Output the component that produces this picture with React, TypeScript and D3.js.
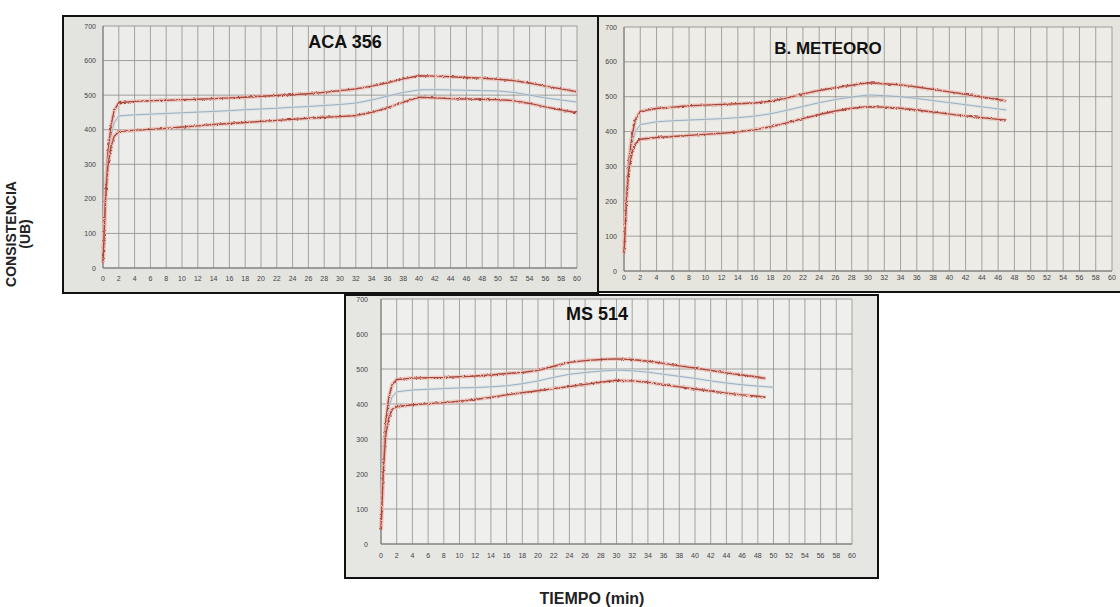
import React from "react";
import * as d3 from "d3";

// ---------- tick labels ----------
const xTicks = [0, 2, 4, 6, 8, 10, 12, 14, 16, 18, 20, 22, 24, 26, 28, 30, 32, 34, 36, 38, 40, 42, 44, 46, 48, 50, 52, 54, 56, 58, 60];
const yTicks = [0, 100, 200, 300, 400, 500, 600, 700];

// ---------- ACA 356 ----------
const acaTime = [0, 0.3, 0.6, 1, 1.4, 2, 4, 6, 8, 10, 12, 14, 16, 18, 20, 22, 24, 26, 28, 30, 32, 34, 36, 38, 40, 42, 44, 46, 48, 50, 52, 54, 56, 58, 60];
const acaTop = [15, 210, 330, 410, 455, 478, 482, 484, 485, 487, 488, 490, 492, 494, 497, 499, 501, 504, 508, 513, 518, 526, 536, 547, 556, 555, 553, 551, 549, 546, 542, 535, 526, 518, 510];
const acaMid = [15, 200, 310, 380, 420, 440, 443, 445, 447, 449, 451, 453, 455, 458, 460, 462, 465, 467, 470, 473, 477, 486, 497, 508, 515, 516, 515, 514, 513, 512, 508, 500, 492, 486, 480];
const acaBottom = [15, 190, 290, 350, 380, 395, 398, 401, 404, 408, 411, 415, 418, 421, 424, 427, 430, 433, 436, 438, 441, 450, 463, 480, 494, 492, 490, 489, 488, 487, 484, 476, 466, 457, 449];

// ---------- B. METEORO ----------
const metTime = [0, 0.3, 0.6, 1, 1.4, 2, 4, 6, 8, 10, 12, 14, 16, 18, 20, 22, 24, 26, 28, 30, 32, 34, 36, 38, 40, 42, 44, 46, 47];
const metTop = [50, 220, 320, 390, 435, 458, 466, 470, 474, 476, 478, 480, 482, 487, 496, 508, 518, 526, 533, 540, 537, 534, 528, 521, 514, 507, 499, 492, 488];
const metMid = [50, 210, 305, 365, 400, 420, 428, 431, 433, 435, 437, 440, 444, 451, 461, 472, 483, 492, 499, 505, 503, 500, 495, 489, 483, 477, 471, 465, 462];
const metBottom = [50, 200, 290, 340, 365, 378, 383, 386, 389, 392, 395, 399, 405, 414, 425, 437, 449, 459, 467, 471, 470, 467, 462, 456, 450, 445, 440, 435, 433];

// ---------- MS 514 ----------
const msTime = [0, 0.3, 0.6, 1, 1.4, 2, 4, 6, 8, 10, 12, 14, 16, 18, 20, 22, 24, 26, 28, 30, 32, 34, 36, 38, 40, 42, 44, 46, 48, 49];
const msMidTime = [0, 0.3, 0.6, 1, 1.4, 2, 4, 6, 8, 10, 12, 14, 16, 18, 20, 22, 24, 26, 28, 30, 32, 34, 36, 38, 40, 42, 44, 46, 48, 50];
const msTop = [40, 230, 350, 420, 455, 470, 474, 475, 476, 478, 480, 483, 487, 490, 496, 508, 519, 524, 527, 529, 527, 522, 516, 509, 503, 496, 489, 483, 477, 473];
const msMid = [40, 220, 330, 390, 420, 435, 440, 442, 444, 446, 447, 449, 452, 458, 466, 476, 485, 490, 494, 497, 495, 491, 485, 479, 473, 466, 460, 455, 451, 448];
const msBottom = [40, 210, 310, 360, 385, 392, 398, 401, 404, 408, 413, 419, 426, 432, 438, 444, 450, 456, 462, 468, 466, 462, 455, 449, 443, 437, 431, 426, 422, 419];

type Line = { time: number[]; values: number[]; kind: "red" | "mid" };

type PanelProps = {
  id: string;
  frame: [number, number, number, number];
  plot: [number, number, number, number]; // x0, x60, y700, y0
  bg: string;
  plotBg: string;
  title: string;
  titleX: number;
  titleY: number;
  titleSize: number;
  lines: Line[];
  yLabelX: number;
  xLabelY: number;
};

function Panel(p: PanelProps) {
  const [fx, fy, fw, fh] = p.frame;
  const [px0, px1, pyTop, pyBot] = p.plot;
  const x = d3.scaleLinear().domain([0, 60]).range([px0, px1]);
  const y = d3.scaleLinear().domain([0, 700]).range([pyBot, pyTop]);
  const gen = (l: Line) =>
    d3
      .line<number>()
      .x((_, i) => x(l.time[i]))
      .y((v) => y(v))
      .curve(d3.curveLinear)(l.values) || "";
  return (
    <g>
      <clipPath id={`clip-${p.id}`}>
        <rect x={fx} y={fy} width={fw} height={fh} />
      </clipPath>
      <g clipPath={`url(#clip-${p.id})`}>
        <rect x={fx} y={fy} width={fw} height={fh} fill={p.bg} />
        <rect x={px0} y={pyTop} width={px1 - px0} height={pyBot - pyTop} fill={p.plotBg} />
        {xTicks.map((t) => (
          <line key={`vx${t}`} x1={x(t)} x2={x(t)} y1={pyTop} y2={pyBot} stroke="#8f8f8c" strokeWidth={0.8} />
        ))}
        {yTicks.map((t) => (
          <line key={`hy${t}`} x1={px0} x2={px1} y1={y(t)} y2={y(t)} stroke="#8a8a88" strokeWidth={0.8} />
        ))}
        <line x1={px0} x2={px0} y1={pyTop} y2={pyBot} stroke="#777" strokeWidth={1} />
        <line x1={px0} x2={px1} y1={pyBot} y2={pyBot} stroke="#777" strokeWidth={1} />
        {yTicks.map((t) => (
          <text key={`yl${t}`} x={p.yLabelX} y={y(t) + 2.5} fontSize={7} fill="#444" textAnchor="end" fontFamily="Liberation Sans, Arial, sans-serif">
            {t}
          </text>
        ))}
        {xTicks.map((t) => (
          <text key={`xl${t}`} x={x(t)} y={p.xLabelY} fontSize={7} fill="#444" textAnchor="middle" fontFamily="Liberation Sans, Arial, sans-serif">
            {t}
          </text>
        ))}
        {p.lines.map((l, i) =>
          l.kind === "red" ? (
            <g key={`l${i}`}>
              <path d={gen(l)} fill="none" stroke="#ecbab2" strokeWidth={4} strokeOpacity={0.7} />
              <path d={gen(l)} fill="none" stroke="#a94a3e" strokeWidth={1.4} filter="url(#jitter)" />
            </g>
          ) : (
            <g key={`l${i}`}>
              <path d={gen(l)} fill="none" stroke="#d6dde2" strokeWidth={3} strokeOpacity={0.6} />
              <path d={gen(l)} fill="none" stroke="#9bb0c0" strokeWidth={1} />
            </g>
          )
        )}
        <text x={p.titleX} y={p.titleY} fontSize={p.titleSize} fontWeight="bold" textAnchor="middle" fill="#111" fontFamily="Liberation Sans, Arial, sans-serif">
          {p.title}
        </text>
      </g>
      <rect x={fx} y={fy} width={fw} height={fh} fill="none" stroke="#111" strokeWidth={2} />
    </g>
  );
}

export default function App() {
  return (
    <svg width={1120} height={607} style={{ position: "absolute", left: 0, top: 0, background: "#fff" }}>
      <defs>
        <filter id="jitter" filterUnits="userSpaceOnUse" x={0} y={0} width={1120} height={607}>
          <feTurbulence type="fractalNoise" baseFrequency="0.45 0.6" numOctaves={2} seed={4} result="n" />
          <feDisplacementMap in="SourceGraphic" in2="n" scale={3} xChannelSelector="R" yChannelSelector="G" />
        </filter>
      </defs>
      <Panel
        id="aca"
        frame={[63, 16, 535, 277]}
        plot={[103, 577, 26, 268]}
        bg="#e3e3e0"
        plotBg="#ececea"
        title="ACA 356"
        titleX={345}
        titleY={48}
        titleSize={18}
        yLabelX={96}
        xLabelY={281}
        lines={[
          { time: acaTime, values: acaMid, kind: "mid" },
          { time: acaTime, values: acaTop, kind: "red" },
          { time: acaTime, values: acaBottom, kind: "red" },
        ]}
      />
      <Panel
        id="met"
        frame={[598, 16, 540, 276]}
        plot={[624, 1112, 27, 271]}
        bg="#e5e4dd"
        plotBg="#edece6"
        title="B. METEORO"
        titleX={828}
        titleY={54}
        titleSize={17}
        yLabelX={617}
        xLabelY={280}
        lines={[
          { time: metTime, values: metMid, kind: "mid" },
          { time: metTime, values: metTop, kind: "red" },
          { time: metTime, values: metBottom, kind: "red" },
        ]}
      />
      <Panel
        id="ms"
        frame={[345, 295, 533, 283]}
        plot={[381, 852, 299, 544]}
        bg="#e6e6e3"
        plotBg="#efefed"
        title="MS 514"
        titleX={597}
        titleY={320}
        titleSize={18}
        yLabelX={368}
        xLabelY={558}
        lines={[
          { time: msMidTime, values: msMid, kind: "mid" },
          { time: msTime, values: msTop, kind: "red" },
          { time: msTime, values: msBottom, kind: "red" },
        ]}
      />
      <text transform="translate(16,234) rotate(-90)" textAnchor="middle" fontSize={14} fontWeight="bold" fill="#222" fontFamily="Liberation Sans, Arial, sans-serif">
        CONSISTENCIA
      </text>
      <text transform="translate(30,234) rotate(-90)" textAnchor="middle" fontSize={14} fontWeight="bold" fill="#222" fontFamily="Liberation Sans, Arial, sans-serif">
        (UB)
      </text>
      <text x={592} y={604} textAnchor="middle" fontSize={16} fontWeight="bold" fill="#222" fontFamily="Liberation Sans, Arial, sans-serif">
        TIEMPO (min)
      </text>
    </svg>
  );
}
